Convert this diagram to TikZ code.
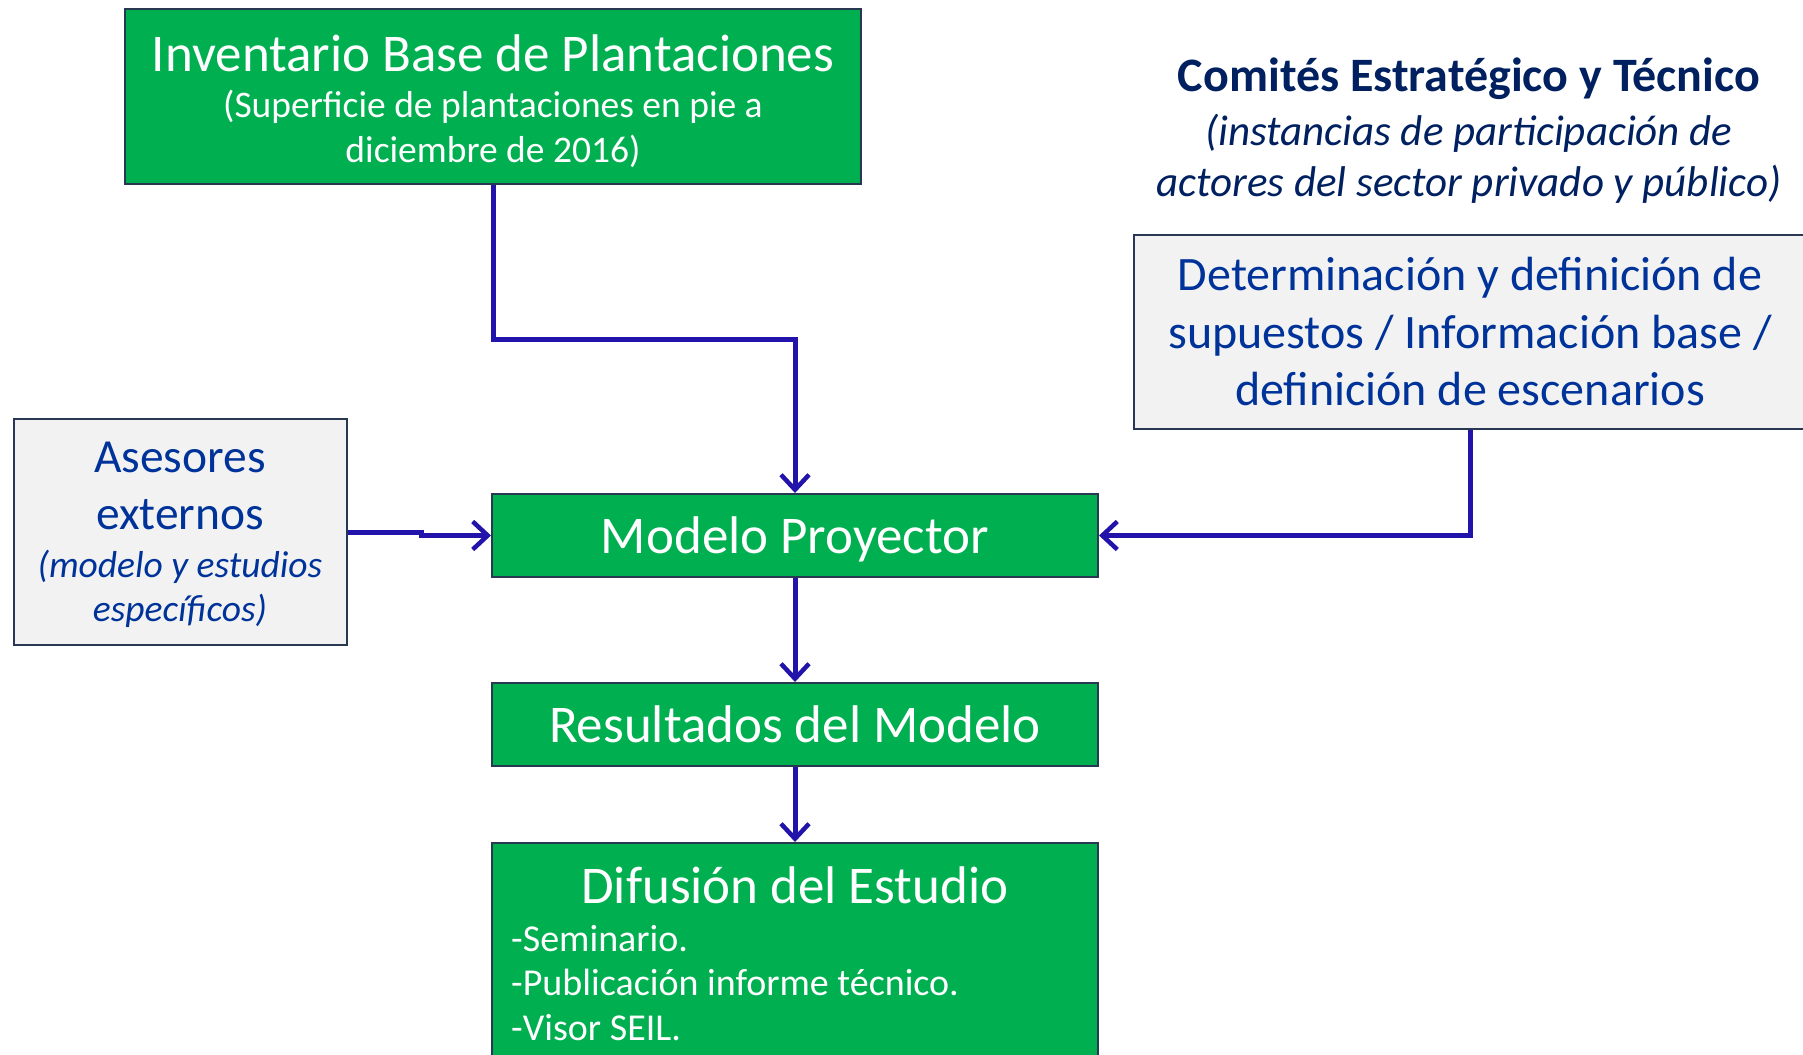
\documentclass[tikz,border=0pt]{standalone}
\usepackage{fontspec}
\setmainfont{Carlito}
\usetikzlibrary{arrows.meta}
\definecolor{boxgreen}{RGB}{0,176,80}
\definecolor{boxgrey}{RGB}{242,242,242}
\definecolor{boxedge}{RGB}{40,56,82}
\definecolor{linkblue}{RGB}{34,20,170}
\definecolor{textblue}{RGB}{0,51,153}
\definecolor{navy}{RGB}{0,32,96}
\begin{document}
\begin{tikzpicture}[x=1pt,y=-1pt]
      % Define styles for nodes
      \tikzstyle{greenbox} = [draw=boxedge, line width=2pt, rectangle,
      fill=boxgreen, text=white, align=center, inner sep=0pt]
      \tikzstyle{greybox} = [draw=boxedge, line width=2pt, rectangle,
      fill=boxgrey, text=textblue, align=center, inner sep=0pt]
      \tikzstyle{label} = [align=center, inner sep=0pt]
      \tikzstyle{link} = [draw=linkblue, line width=5pt,
      -{Straight Barb[length=15pt,width=28pt,line width=4.5pt]}]

      % Page frame
      \useasboundingbox (0,0) rectangle (1803,1054);

      % Boxes on the main line
      \node[greenbox, minimum width=736, minimum height=175] (inventario) at (493,96.5) {};
      \node[label, text=white, font=\fontsize{53}{60}\selectfont] (invtitulo) at (493,53)
      {Inventario Base de Plantaciones};
      \node[label, text=white, font=\fontsize{37.5}{45}\selectfont] (invnota) at (493,129)
      {(Superficie de plantaciones en pie a\\diciembre de 2016)};

      \node[greenbox, minimum width=606, minimum height=83, text depth=0pt,
      font=\fontsize{53}{60}\selectfont] (modelo) at (795,535.5) {Modelo Proyector};
      \node[greenbox, minimum width=606, minimum height=83,
      font=\fontsize{53}{60}\selectfont] (resultados) at (795,724.5) {Resultados del Modelo};

      \node[greenbox, minimum width=606, minimum height=230, anchor=north] (difusion) at (795,842) {};
      \node[label, text=white, font=\fontsize{53}{60}\selectfont] (difustitulo) at (795,885)
      {Difusión del Estudio};
      \node[label, text=white, align=left, anchor=west,
      font=\fontsize{38}{44.5}\selectfont] (difuslista) at (511,983)
      {-Seminario.\\-Publicación informe técnico.\\-Visor SEIL.};

      % Side boxes
      \node[greybox, minimum width=333, minimum height=226] (asesores) at (180.5,532) {};
      \node[label, text=textblue, font=\fontsize{47.5}{57}\selectfont] (asestitulo) at (180,486)
      {Asesores\\externos};
      \node[label, text=textblue, font=\fontsize{37.5}{44}\selectfont\itshape] (asesnota) at (180,589)
      {(modelo y estudios\\específicos)};

      \node[greybox, minimum width=672, minimum height=194,
      font=\fontsize{48}{57.5}\selectfont] (supuestos) at (1470,332)
      {Determinación y definición de\\supuestos / Información base /\\definición de escenarios};

      \node[label, text=navy, font=\fontsize{48}{56}\selectfont\bfseries] (comites) at (1469,79)
      {Comités Estratégico y Técnico};
      \node[label, text=navy, font=\fontsize{43}{51}\selectfont\itshape] (comitesnota) at (1469,159)
      {(instancias de participación de\\actores del sector privado y público)};

      % Connections
      \draw[link] (inventario.south) -- ++(0,154) -| (modelo.north);
      \draw[link] (asesores.east) -- ++(73,0) |- (modelo.west);
      \draw[link] (supuestos.south) |- (modelo.east);
      \draw[link] (modelo.south) -- (resultados.north);
      \draw[link] (resultados.south) -- (difusion.north);
\end{tikzpicture}
\end{document}
